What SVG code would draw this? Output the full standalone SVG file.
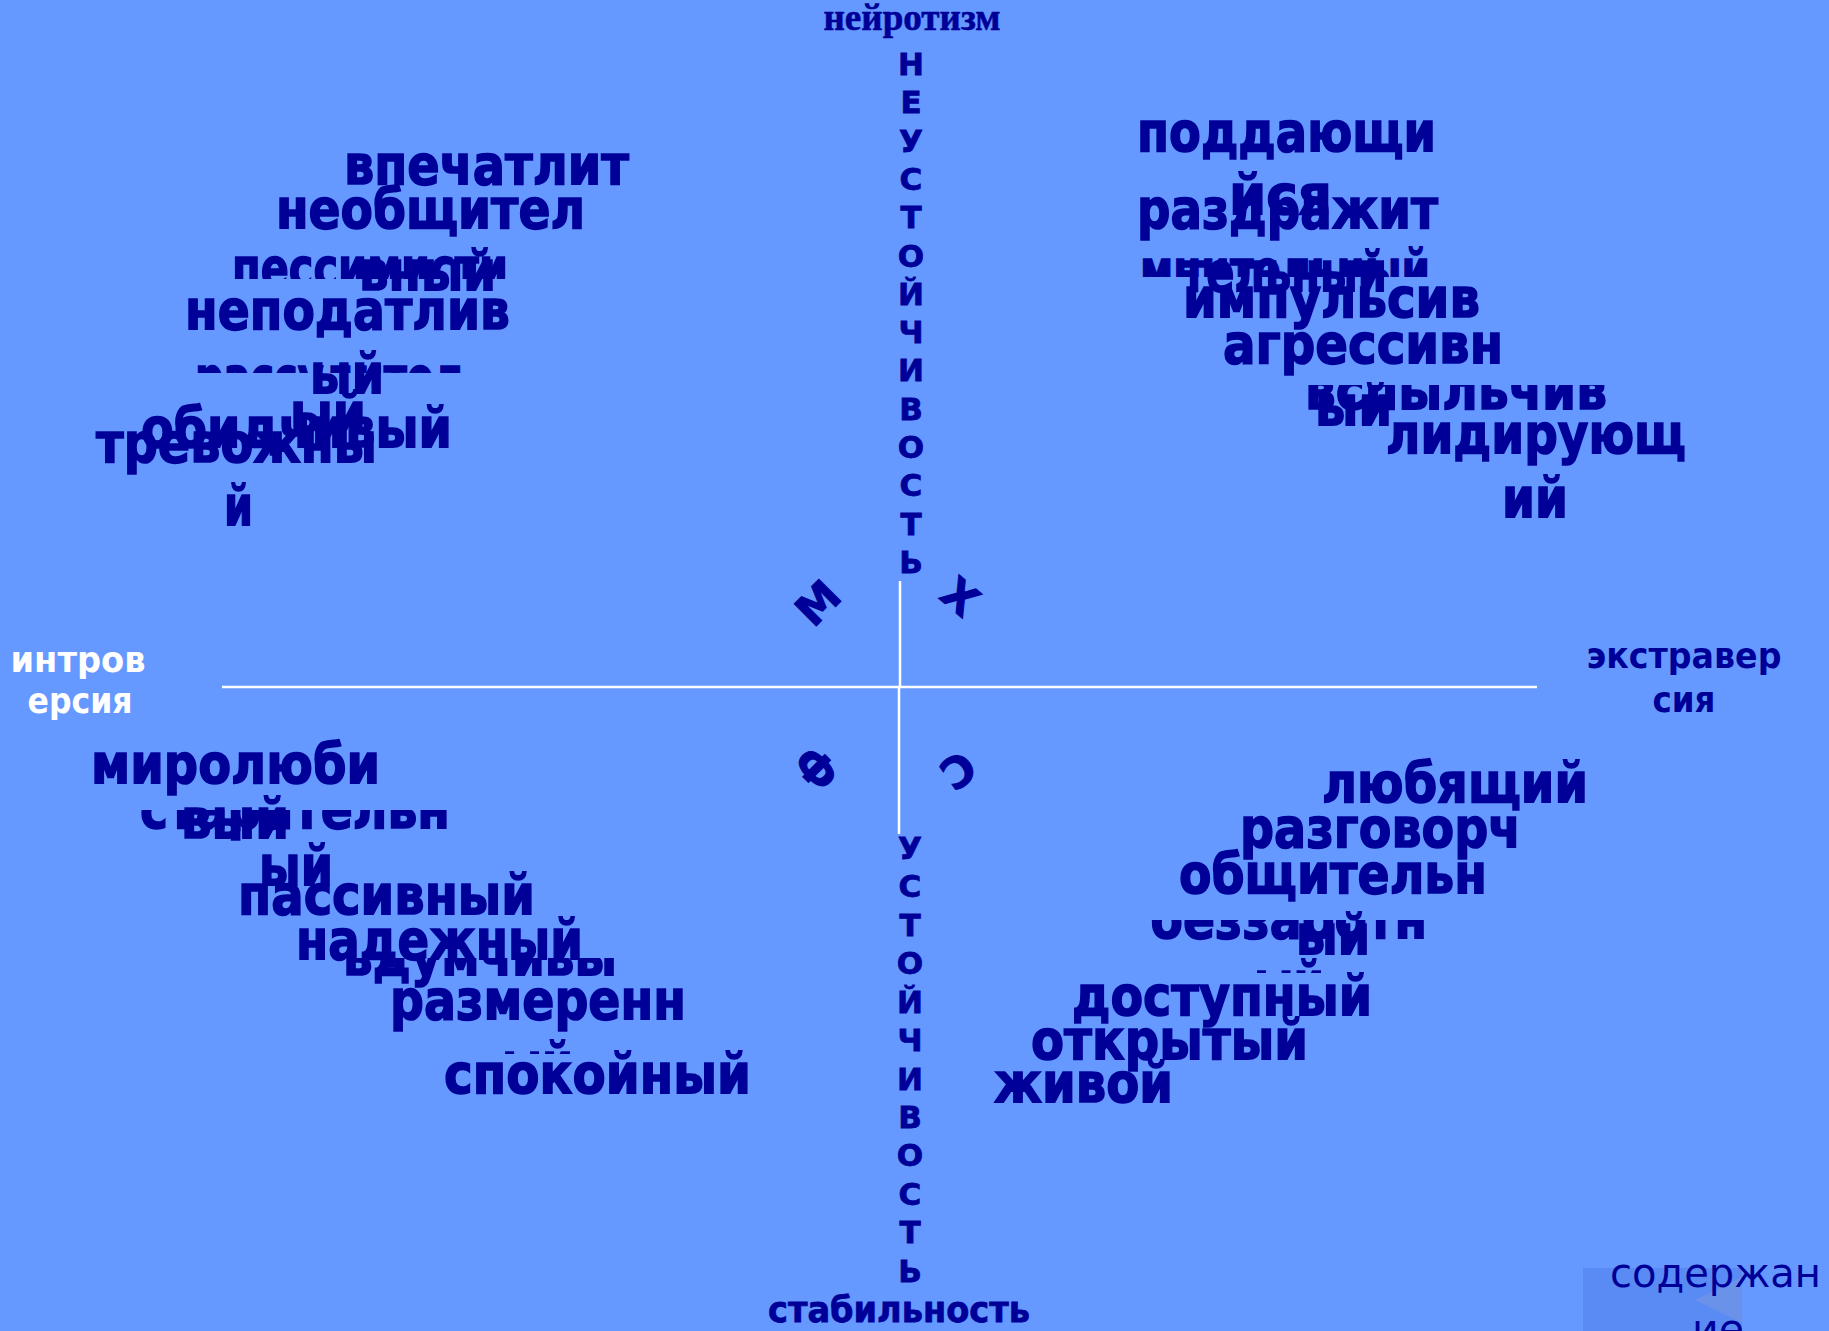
<svg xmlns="http://www.w3.org/2000/svg" width="1829" height="1331" viewBox="0 0 1829 1331">
<style>
.w{font-family:"DejaVu Sans","Liberation Sans",sans-serif;font-weight:bold;font-size:56px;fill:#000099;stroke:#000099;stroke-width:1.6}
.v{font-family:"DejaVu Sans","Liberation Sans",sans-serif;font-weight:bold;font-size:31px;fill:#000099;stroke:#000099;stroke-width:0.8;text-anchor:middle}
.r{font-family:"DejaVu Sans","Liberation Sans",sans-serif;font-weight:bold;font-size:43px;fill:#000099;stroke:#000099;stroke-width:1;text-anchor:middle}
.ax{font-family:"DejaVu Sans","Liberation Sans",sans-serif;font-weight:bold;font-size:36px;text-anchor:middle}
.ln{stroke:#ffffff;stroke-width:2.5;fill:none}
</style>
<defs>
<clipPath id="c3"><rect x="0" y="0" width="1829" height="279"/></clipPath>
<clipPath id="c6"><rect x="0" y="0" width="1829" height="373"/></clipPath>
<clipPath id="c15"><rect x="0" y="0" width="1829" height="277"/></clipPath>
<clipPath id="c19"><rect x="0" y="385" width="1829" height="200"/></clipPath>
<clipPath id="c24"><rect x="0" y="810" width="1829" height="100"/></clipPath>
<clipPath id="c29"><rect x="0" y="958" width="1829" height="100"/></clipPath>
<clipPath id="c31"><rect x="0" y="0" width="1829" height="1054"/></clipPath>
<clipPath id="c36"><rect x="0" y="920" width="1829" height="100"/></clipPath>
<clipPath id="c38"><rect x="0" y="0" width="1829" height="973"/></clipPath>
</defs>
<rect width="1829" height="1331" fill="#6699ff"/>

<g id="connectors">
<line class="ln" x1="222" y1="687" x2="1537" y2="687"/>
<line class="ln" x1="900" y1="581" x2="900" y2="687"/>
<line class="ln" x1="899" y1="687" x2="899" y2="834"/>
</g>

<g id="axis-labels">
<text x="912" y="30" font-family="Liberation Serif,serif" font-weight="bold" font-size="38" fill="#000099" stroke="#000099" stroke-width="0.6" text-anchor="middle" textLength="177" lengthAdjust="spacingAndGlyphs">нейротизм</text>
<text x="768" y="1322" font-family="DejaVu Sans,sans-serif" font-weight="bold" font-size="36" fill="#000099" stroke="#000099" stroke-width="0.8" textLength="262" lengthAdjust="spacingAndGlyphs">стабильность</text>
<g id="introversion">
<text class="ax" x="78" y="672" fill="#ffffff" textLength="135" lengthAdjust="spacingAndGlyphs">интров</text>
<text class="ax" x="80" y="713" fill="#ffffff" textLength="105" lengthAdjust="spacingAndGlyphs">ерсия</text>
</g>
<g id="extraversion">
<text class="ax" x="1684" y="668" fill="#000099" textLength="195" lengthAdjust="spacingAndGlyphs">экстравер</text>
<text class="ax" x="1684" y="712" fill="#000099" textLength="63" lengthAdjust="spacingAndGlyphs">сия</text>
</g>
</g>

<g id="unstable">
<text class="v" x="911" y="75">Н</text>
<text class="v" x="911" y="113">Е</text>
<text class="v" x="911" y="152">У</text>
<text class="v" x="911" y="190">С</text>
<text class="v" x="911" y="228">Т</text>
<text class="v" x="911" y="267">О</text>
<text class="v" x="911" y="305">Й</text>
<text class="v" x="911" y="343">Ч</text>
<text class="v" x="911" y="381">И</text>
<text class="v" x="911" y="420">В</text>
<text class="v" x="911" y="458">О</text>
<text class="v" x="911" y="496">С</text>
<text class="v" x="911" y="535">Т</text>
<text class="v" x="911" y="573">Ь</text>
</g>

<g id="stable">
<text class="v" x="910" y="859">У</text>
<text class="v" x="910" y="897">С</text>
<text class="v" x="910" y="936">Т</text>
<text class="v" x="910" y="974">О</text>
<text class="v" x="910" y="1013">Й</text>
<text class="v" x="910" y="1051">Ч</text>
<text class="v" x="910" y="1090">И</text>
<text class="v" x="910" y="1128">В</text>
<text class="v" x="910" y="1166">О</text>
<text class="v" x="910" y="1205">С</text>
<text class="v" x="910" y="1243">Т</text>
<text class="v" x="910" y="1282">Ь</text>
</g>

<g id="temperaments">
<text class="r" transform="translate(818 603) rotate(-45)" y="15">М</text>
<text class="r" transform="translate(960 597) rotate(40)" y="15">Х</text>
<text class="r" transform="translate(817 768) rotate(-135)" y="15">Ф</text>
<text class="r" transform="translate(958 770) rotate(145)" y="15">С</text>
</g>

<g id="melancholic">
<text class="w" x="344" y="184" textLength="285" lengthAdjust="spacingAndGlyphs">впечатлит</text>
<text class="w" x="276" y="228" textLength="309" lengthAdjust="spacingAndGlyphs">необщител</text>
<text class="w" x="232" y="287" textLength="276" lengthAdjust="spacingAndGlyphs" clip-path="url(#c3)">пессимисти</text>
<text class="w" x="359" y="290" textLength="137" lengthAdjust="spacingAndGlyphs">вный</text>
<text class="w" x="185" y="329" textLength="325" lengthAdjust="spacingAndGlyphs">неподатлив</text>
<text class="w" x="195" y="396" textLength="268" lengthAdjust="spacingAndGlyphs" clip-path="url(#c6)">рассудител</text>
<text class="w" x="310" y="393" textLength="74" lengthAdjust="spacingAndGlyphs">ый</text>
<text class="w" x="290" y="432" textLength="76" lengthAdjust="spacingAndGlyphs">ый</text>
<text class="w" x="141" y="447" textLength="311" lengthAdjust="spacingAndGlyphs">обидчивый</text>
<text class="w" x="96" y="462" textLength="281" lengthAdjust="spacingAndGlyphs">тревожны</text>
<text class="w" x="224" y="525" textLength="29" lengthAdjust="spacingAndGlyphs">й</text>
</g>

<g id="choleric">
<text class="w" x="1137" y="151" textLength="299" lengthAdjust="spacingAndGlyphs">поддающи</text>
<text class="w" x="1229" y="214" textLength="103" lengthAdjust="spacingAndGlyphs">йся</text>
<text class="w" x="1137" y="228" textLength="301" lengthAdjust="spacingAndGlyphs">раздражит</text>
<text class="w" x="1140" y="289" textLength="290" lengthAdjust="spacingAndGlyphs" clip-path="url(#c15)">мнительный</text>
<text class="w" x="1182" y="291" textLength="205" lengthAdjust="spacingAndGlyphs">тельный</text>
<text class="w" x="1183" y="317" textLength="297" lengthAdjust="spacingAndGlyphs">импульсив</text>
<text class="w" x="1223" y="363" textLength="280" lengthAdjust="spacingAndGlyphs">агрессивн</text>
<text class="w" x="1305" y="409" textLength="302" lengthAdjust="spacingAndGlyphs" clip-path="url(#c19)">вспыльчив</text>
<text class="w" x="1315" y="425" textLength="77" lengthAdjust="spacingAndGlyphs">ый</text>
<text class="w" x="1386" y="453" textLength="300" lengthAdjust="spacingAndGlyphs">лидирующ</text>
<text class="w" x="1502" y="517" textLength="66" lengthAdjust="spacingAndGlyphs">ий</text>
</g>

<g id="phlegmatic">
<text class="w" x="91" y="783" textLength="289" lengthAdjust="spacingAndGlyphs">миролюби</text>
<text class="w" x="140" y="828" textLength="310" lengthAdjust="spacingAndGlyphs" clip-path="url(#c24)">старательн</text>
<text class="w" x="181" y="838" textLength="108" lengthAdjust="spacingAndGlyphs">вый</text>
<text class="w" x="259" y="885" textLength="74" lengthAdjust="spacingAndGlyphs">ый</text>
<text class="w" x="238" y="914" textLength="297" lengthAdjust="spacingAndGlyphs">пассивный</text>
<text class="w" x="296" y="959" textLength="287" lengthAdjust="spacingAndGlyphs">надежный</text>
<text class="w" x="343" y="975" textLength="274" lengthAdjust="spacingAndGlyphs" clip-path="url(#c29)">вдумчивы</text>
<text class="w" x="390" y="1019" textLength="296" lengthAdjust="spacingAndGlyphs">размеренн</text>
<text class="w" x="502" y="1082" textLength="71" lengthAdjust="spacingAndGlyphs" clip-path="url(#c31)">ый</text>
<text class="w" x="444" y="1093" textLength="307" lengthAdjust="spacingAndGlyphs">спокойный</text>
</g>

<g id="sanguine">
<text class="w" x="1322" y="802" textLength="266" lengthAdjust="spacingAndGlyphs">любящий</text>
<text class="w" x="1240" y="847" textLength="281" lengthAdjust="spacingAndGlyphs">разговорч</text>
<text class="w" x="1179" y="893" textLength="308" lengthAdjust="spacingAndGlyphs">общительн</text>
<text class="w" x="1150" y="938" textLength="277" lengthAdjust="spacingAndGlyphs" clip-path="url(#c36)">беззаботн</text>
<text class="w" x="1296" y="954" textLength="74" lengthAdjust="spacingAndGlyphs">ый</text>
<text class="w" x="1254" y="1001" textLength="70" lengthAdjust="spacingAndGlyphs" clip-path="url(#c38)">ый</text>
<text class="w" x="1072" y="1015" textLength="300" lengthAdjust="spacingAndGlyphs">доступный</text>
<text class="w" x="1031" y="1059" textLength="277" lengthAdjust="spacingAndGlyphs">открытый</text>
<text class="w" x="994" y="1102" textLength="179" lengthAdjust="spacingAndGlyphs">живой</text>
</g>

<g id="contents-button">
<rect x="1583" y="1268" width="159" height="63" fill="#5a8af3"/>
<polygon points="1742,1277 1695,1300 1742,1323" fill="#6a92e8"/>
<text x="1610" y="1287" font-family="DejaVu Sans,sans-serif" font-size="41" fill="#000099" textLength="211" lengthAdjust="spacingAndGlyphs">содержан</text>
<text x="1692" y="1343" font-family="DejaVu Sans,sans-serif" font-size="41" fill="#000099" textLength="52" lengthAdjust="spacingAndGlyphs">ие</text>
</g>
</svg>
